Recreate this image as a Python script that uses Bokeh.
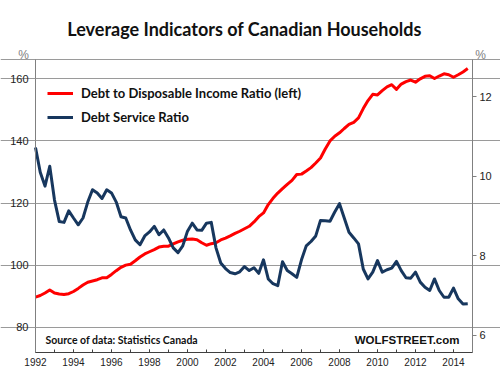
from bokeh.plotting import figure
from bokeh.models import Range1d, LinearAxis, FixedTicker, Label, Legend, LegendItem, Grid
from bokeh.embed import file_html
from bokeh.resources import INLINE

# ---- data (quarterly, 1992Q1 .. 2014Q4) ----
start_year = 1992
debt_to_income = [
    89.7, 90.2, 91.0, 92.0, 91.0, 90.7, 90.5, 90.8, 91.5, 92.5,
    93.6, 94.5, 94.9, 95.3, 95.9, 95.9, 97.0, 98.2, 99.3, 100.0,
    100.3, 101.4, 102.6, 103.6, 104.3, 105.0, 105.8, 106.1, 106.1, 106.8,
    107.5, 108.0, 108.3, 108.4, 108.2, 107.2, 106.4, 106.9, 107.2, 108.1,
    108.7, 109.4, 110.2, 110.9, 111.7, 112.5, 113.9, 115.6, 116.8, 119.5,
    121.5, 123.2, 124.6, 126.0, 127.3, 129.2, 129.3, 130.3, 131.4, 132.9,
    134.5, 137.4, 140.0, 141.5, 142.6, 144.0, 145.3, 146.0, 147.4, 150.4,
    153.0, 155.0, 154.8, 156.2, 157.4, 158.1, 156.6, 158.3, 159.1, 159.6,
    158.9, 160.0, 160.8, 161.0, 160.1, 160.9, 161.6, 161.3, 160.5, 161.3,
    162.2, 163.3,
]
debt_service = [
    10.72, 10.10, 9.75, 10.25, 9.40, 8.86, 8.84, 9.13, 8.95, 8.78,
    8.95, 9.35, 9.66, 9.58, 9.44, 9.66, 9.58, 9.35, 8.98, 8.95,
    8.65, 8.40, 8.28, 8.50, 8.60, 8.74, 8.53, 8.65, 8.45, 8.20,
    8.08, 8.25, 8.62, 8.82, 8.65, 8.64, 8.82, 8.84, 8.20, 7.82,
    7.68, 7.58, 7.55, 7.60, 7.73, 7.63, 7.70, 7.56, 7.90, 7.42,
    7.30, 7.25, 7.85, 7.63, 7.55, 7.46, 7.90, 8.25, 8.36, 8.50,
    8.89, 8.88, 8.87, 9.10, 9.31, 8.95, 8.59, 8.45, 8.30, 7.67,
    7.42, 7.59, 7.88, 7.59, 7.65, 7.69, 7.86, 7.63, 7.45, 7.44,
    7.59, 7.34, 7.21, 7.13, 7.42, 7.13, 6.96, 6.96, 7.19, 6.92,
    6.79, 6.80,
]
quarters = [start_year + i * 0.25 for i in range(len(debt_to_income))]
year_labels = list(range(1992, 2015, 2))
year_ticks = list(range(1992, 2016))
left_ticks = [80, 100, 120, 140, 160]
right_ticks = [6, 8, 10, 12]

title_text = "Leverage Indicators of Canadian Households"
label_red = "Debt to Disposable Income Ratio (left)"
label_blue = "Debt Service Ratio"
source_text = "Source of data: Statistics Canada"
brand_text = "WOLFSTREET.com"

RED = "#FF0000"
NAVY = "#17375E"

# plot box limits (data units)
X0, X1 = 1992, 2015
L0, L1 = 71.85, 166.1
R0, R1 = 5.573, 12.92

# frame covers the whole canvas so that texts outside the plot box are not clipped
p = figure(width=500, height=375, output_backend="svg", toolbar_location=None,
           x_range=Range1d(1990.158, 2016.474), y_range=Range1d(64.443, 185.22),
           x_axis_type=None, y_axis_type=None,
           min_border_left=0, min_border_right=0, min_border_top=0,
           min_border_bottom=0)
p.background_fill_color = "white"
p.border_fill_color = "white"
p.outline_line_color = None
p.extra_y_ranges = {"right": Range1d(4.9955, 14.411)}

# horizontal gridlines + top border of plot box
grid = Grid(dimension=1, ticker=FixedTicker(ticks=left_ticks + [L1]), bounds=(X0, X1),
            grid_line_color="#9a9a9a", grid_line_width=1)
p.add_layout(grid)

# x axis
xa = LinearAxis(fixed_location=L0, bounds=(X0, X1),
                ticker=FixedTicker(ticks=year_labels, minor_ticks=year_ticks))
xa.major_tick_in = 3
xa.major_tick_out = 0
xa.minor_tick_in = 3
xa.minor_tick_out = 0
xa.major_tick_line_color = "#404040"
xa.minor_tick_line_color = "#404040"
xa.axis_line_color = "#404040"
xa.major_label_standoff = 5
xa.major_label_text_font = "Liberation Sans"
xa.major_label_text_font_size = "10px"
xa.major_label_text_color = "#222222"
p.add_layout(xa, "below")

# left axis
ya = LinearAxis(fixed_location=X0, bounds=(L0, L1), ticker=FixedTicker(ticks=left_ticks))
ya.major_tick_in = 0
ya.major_tick_out = 4
ya.minor_tick_in = 0
ya.minor_tick_out = 0
ya.axis_line_color = "#808080"
ya.major_tick_line_color = "#9a9a9a"
ya.major_label_standoff = 3
ya.major_label_text_font = "Liberation Sans"
ya.major_label_text_font_size = "11px"
ya.major_label_text_color = "#222222"
p.add_layout(ya, "left")

# right axis
ra = LinearAxis(y_range_name="right", fixed_location=X1, bounds=(R0, R1),
                ticker=FixedTicker(ticks=right_ticks))
ra.major_tick_in = 0
ra.major_tick_out = 4
ra.minor_tick_in = 0
ra.minor_tick_out = 0
ra.axis_line_color = "#808080"
ra.major_tick_line_color = "#808080"
ra.major_label_standoff = 3
ra.major_label_text_font = "Liberation Sans"
ra.major_label_text_font_size = "11px"
ra.major_label_text_color = "#222222"
p.add_layout(ra, "right")

r1 = p.line(quarters, debt_to_income, line_color=RED, line_width=3, line_join="round")
r2 = p.line(quarters, debt_service, y_range_name="right", line_color=NAVY,
            line_width=3, line_join="round")

legend = Legend(items=[LegendItem(label=label_red, renderers=[r1]),
                       LegendItem(label=label_blue, renderers=[r2])],
                location=(47, 248), margin=0, padding=0, spacing=4,
                glyph_width=26, glyph_height=20, label_height=20,
                label_standoff=8, background_fill_alpha=0, border_line_alpha=0,
                label_text_font="Lato", label_text_font_style="bold",
                label_text_font_size="13px", label_text_color="#111111")
p.add_layout(legend)

p.add_layout(Label(x=244, y=347, x_units="screen", y_units="screen", text=title_text,
                   text_font="Lato", text_font_style="bold", text_font_size="18px",
                   text_align="center", text_baseline="middle", text_color="#111111"))
p.add_layout(Label(x=23, y=321, x_units="screen", y_units="screen", text="%",
                   text_font="Liberation Sans", text_font_size="12px",
                   text_align="center", text_baseline="middle", text_color="#808080"))
p.add_layout(Label(x=480, y=321, x_units="screen", y_units="screen", text="%",
                   text_font="Liberation Sans", text_font_size="12px",
                   text_align="center", text_baseline="middle", text_color="#808080"))
p.add_layout(Label(x=45, y=36, x_units="screen", y_units="screen", text=source_text,
                   text_font="Lato", text_font_style="bold", text_font_size="10.5px",
                   text_align="left", text_baseline="middle", text_color="#111111"))
p.add_layout(Label(x=459, y=36, x_units="screen", y_units="screen", text=brand_text,
                   text_font="Liberation Sans", text_font_style="bold", text_font_size="11.5px",
                   text_align="right", text_baseline="middle", text_color="#111111"))

open("out.html", "w").write(file_html(p, INLINE))
